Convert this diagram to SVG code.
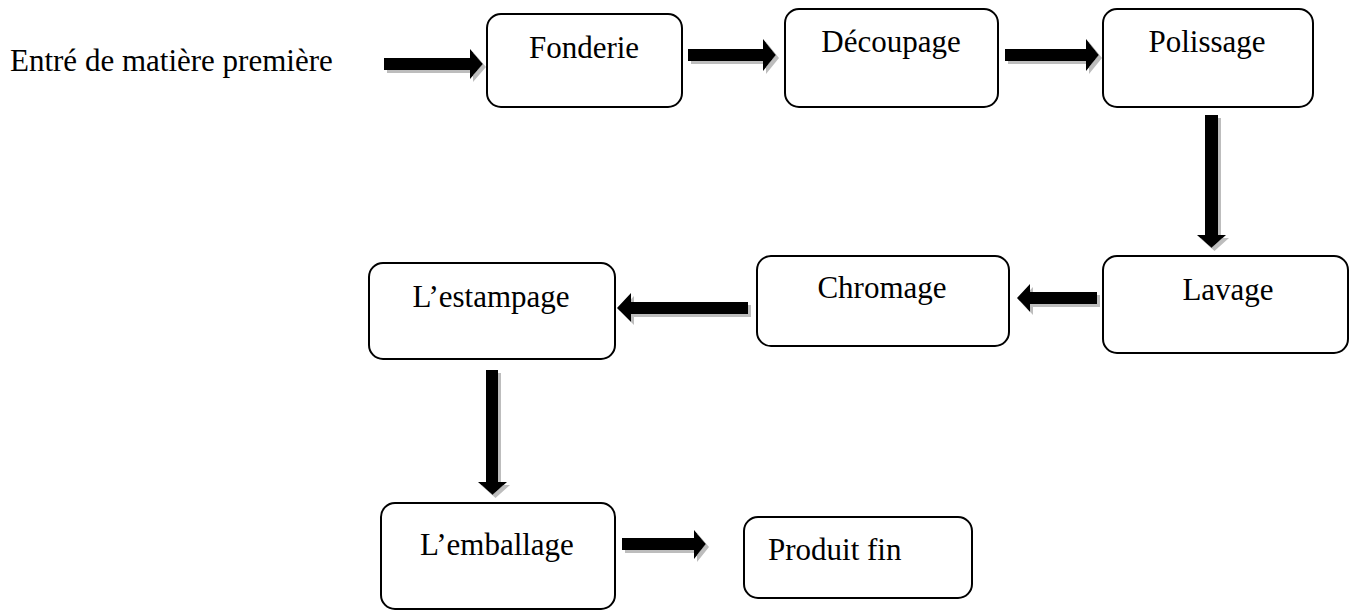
<svg xmlns="http://www.w3.org/2000/svg" width="1350" height="612" viewBox="0 0 1350 612">
  <defs>
    <!-- flat grey drop shadow used by the block arrows -->
    <filter id="shade" x="-20%" y="-20%" width="140%" height="140%">
      <feOffset in="SourceAlpha" dx="3" dy="3" result="off"/>
      <feFlood flood-color="#bdbdbd"/>
      <feComposite in2="off" operator="in" result="grey"/>
      <feMerge>
        <feMergeNode in="grey"/>
        <feMergeNode in="SourceGraphic"/>
      </feMerge>
    </filter>
  </defs>
  <style>
    .box { fill: #ffffff; stroke: #000000; stroke-width: 2; }
    .lbl { font-family: "Liberation Serif", "Times New Roman", serif; font-size: 31px; fill: #000000; }
    .mid { text-anchor: middle; }
    .arrow { fill: #000000; filter: url(#shade); }
  </style>
  <rect width="1350" height="612" fill="#ffffff"/>

  <text id="entree" class="lbl" x="10" y="71">Entré de matière première</text>

  <g id="fonderie">
    <rect class="box" x="487" y="14" width="195" height="93" rx="14"/>
    <text class="lbl mid" x="584" y="58">Fonderie</text>
  </g>
  <g id="decoupage">
    <rect class="box" x="785" y="9" width="213" height="98" rx="14"/>
    <text class="lbl mid" x="891" y="52">Découpage</text>
  </g>
  <g id="polissage">
    <rect class="box" x="1103" y="9" width="210" height="98" rx="14"/>
    <text class="lbl mid" x="1207" y="52">Polissage</text>
  </g>
  <g id="lavage">
    <rect class="box" x="1103" y="256" width="245" height="97" rx="14"/>
    <text class="lbl mid" x="1228" y="300">Lavage</text>
  </g>
  <g id="chromage">
    <rect class="box" x="757" y="256" width="252" height="90" rx="14"/>
    <text class="lbl mid" x="882" y="298">Chromage</text>
  </g>
  <g id="estampage">
    <rect class="box" x="369" y="263" width="246" height="96" rx="14"/>
    <text class="lbl mid" x="491" y="307">L’estampage</text>
  </g>
  <g id="emballage">
    <rect class="box" x="381" y="503" width="234" height="106" rx="14"/>
    <text class="lbl mid" x="497" y="555">L’emballage</text>
  </g>
  <g id="produit">
    <rect class="box" x="744" y="517" width="228" height="81" rx="14"/>
    <text class="lbl" x="768" y="560">Produit fin</text>
  </g>

  <g id="connectors">
    <polygon class="arrow" points="384,58 470,58 470,49 483,64 470,79 470,70 384,70"/>
    <polygon class="arrow" points="688,49 763,49 763,39 776,55 763,71 763,61 688,61"/>
    <polygon class="arrow" points="1005,49 1086,49 1086,39 1099,55 1086,71 1086,61 1005,61"/>
    <polygon class="arrow" points="1205,115 1218,115 1218,235 1226,235 1211.5,248 1197,235 1205,235"/>
    <polygon class="arrow" points="1097,292 1030,292 1030,284 1017,298 1030,312 1030,304 1097,304"/>
    <polygon class="arrow" points="748,302 631,302 631,293 617,308 631,322 631,314 748,314"/>
    <polygon class="arrow" points="486,370 498,370 498,482 507,482 492.5,495 478,482 486,482"/>
    <polygon class="arrow" points="622,538 694,538 694,530 706,544 694,559 694,550 622,550"/>
  </g>
</svg>
